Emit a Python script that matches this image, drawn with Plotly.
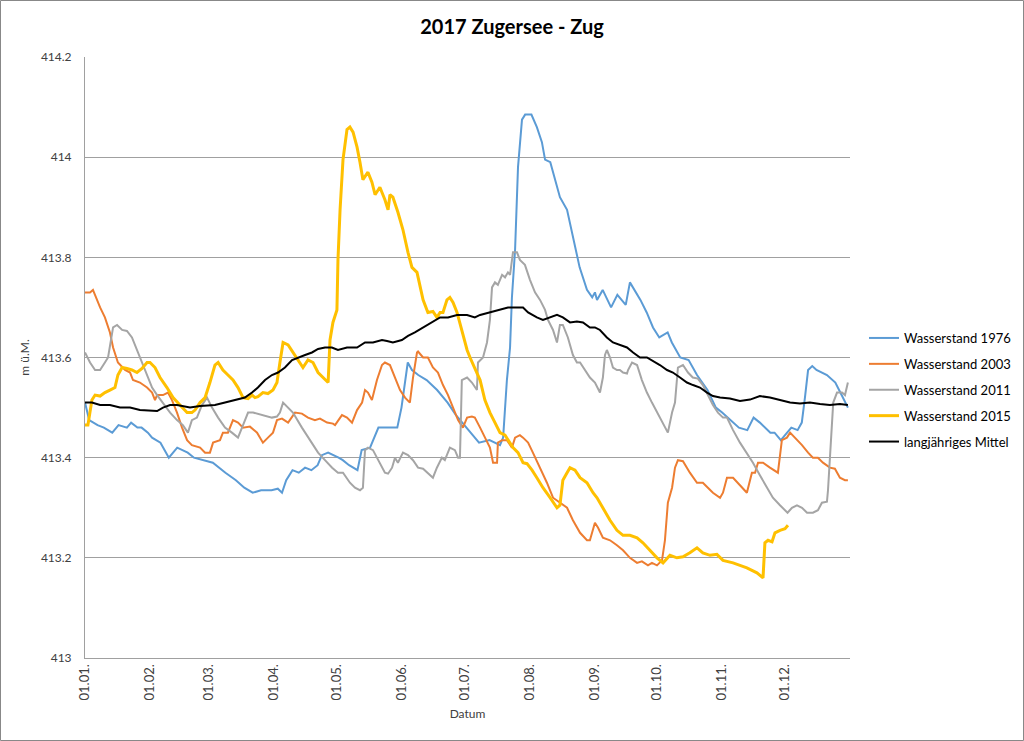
import plotly.graph_objects as go

# ---- data (day of year since 01.01., value in m ü.M.) ----
tick_days = [0, 31, 59, 90, 120, 151, 181, 212, 243, 273, 304, 334]
tick_labels = ["01.01.", "01.02.", "01.03.", "01.04.", "01.05.", "01.06.",
               "01.07.", "01.08.", "01.09.", "01.10.", "01.11.", "01.12."]

d1976 = [0, 2, 6, 9, 13, 16, 20, 22, 25, 27, 30, 32, 36, 40, 44, 49, 52, 56, 61, 67, 72, 76, 80, 84, 89, 92, 94, 96, 99,
         102, 105, 108, 111, 113, 116, 121, 123, 126, 130, 132, 136, 140, 145, 149, 151, 154, 156, 159, 163, 168, 173,
         177, 184, 188, 193, 198, 199.5, 201.3, 202.8, 203.7, 205.2, 206.6, 208.5, 210, 213, 215.6, 218, 219.5, 222, 224,
         226.6, 230, 233, 236, 239.5, 242, 243.3, 244.3, 247, 251, 254, 258, 260, 265, 268, 271, 274, 278, 280, 284, 288,
         292, 297, 301, 304, 308, 312, 316, 319, 322, 327, 329, 332, 335, 337, 340, 342, 343.5, 345, 347, 349, 354, 358,
         361, 364]
v1976 = [413.51, 413.475, 413.465, 413.46, 413.45, 413.465, 413.46, 413.47, 413.46, 413.46, 413.45, 413.44, 413.43,
         413.40, 413.42, 413.41, 413.40, 413.395, 413.39, 413.37, 413.355, 413.34, 413.33, 413.335, 413.335, 413.338,
         413.33, 413.355, 413.375, 413.37, 413.38, 413.375, 413.385, 413.405, 413.41, 413.40, 413.395, 413.385, 413.375,
         413.415, 413.42, 413.46, 413.46, 413.46, 413.50, 413.59, 413.575, 413.565, 413.555, 413.535, 413.51, 413.485,
         413.45, 413.43, 413.435, 413.425, 413.44, 413.555, 413.62, 413.72, 413.815, 413.98, 414.075, 414.085, 414.085,
         414.06, 414.03, 413.995, 413.99, 413.96, 413.92, 413.895, 413.84, 413.78, 413.735, 413.72, 413.73, 413.715,
         413.735, 413.70, 413.725, 413.705, 413.75, 413.715, 413.69, 413.66, 413.64, 413.65, 413.63, 413.60, 413.595,
         413.565, 413.535, 413.50, 413.49, 413.475, 413.46, 413.455, 413.48, 413.47, 413.45, 413.45, 413.435, 413.45,
         413.46, 413.455, 413.47, 413.52, 413.575, 413.583, 413.575, 413.565, 413.55, 413.525, 413.50]

d2003 = [0, 2.4, 3.8, 5.7, 7.2, 9.5, 11.9, 13.4, 15.7, 19.1, 21.5, 22.9, 26.2, 29.6, 32, 33.4, 34.4, 37.2, 39.6, 41.5,
         43.9, 46.3, 48.7, 51, 54.9, 57.3, 59.6, 61.1, 64.4, 65.8, 68.2, 70.6, 73, 75.4, 78.7, 82.1, 84.9, 87.3, 89.7,
         91.6, 94, 96.9, 100.2, 103.5, 106.4, 109.7, 112.1, 115.5, 118.3, 119.3, 122.6, 125, 127.4, 129.8, 132.2, 133.6,
         135, 136.9, 139.3, 141.7, 143.1, 145.5, 147.9, 150.3, 152.7, 155, 156.5, 158.4, 158.9, 161.3, 163.6, 166, 168.4,
         170.8, 173.2, 175.6, 178, 180.3, 182.3, 184.6, 186, 188.5, 190.8, 193.2, 194.7, 196.6, 197, 199, 201.3, 203.7,
         205.2, 207.5, 209, 211.4, 213.7, 217.1, 220.4, 223.3, 226.6, 230, 232.8, 236.2, 239.5, 240.9, 243.3, 244.8,
         247.1, 250.5, 253.8, 256.7, 260, 263.4, 265.7, 268.6, 270.5, 272.9, 275.3, 276.7, 278.1, 280.1, 281.5, 282.9,
         285.3, 288.6, 292, 294.8, 297.2, 299.6, 303, 304.4, 306.3, 309.2, 312.5, 315.8, 318.2, 319.7, 321.1, 323.5,
         326.8, 330.6, 332.5, 334.9, 336.4, 338.7, 342.1, 345, 347.3, 349.7, 352.1, 355.4, 357.8, 360.2, 362.6, 364]
v2003 = [413.73, 413.73, 413.735, 413.715, 413.70, 413.68, 413.65, 413.62, 413.59, 413.575, 413.57, 413.555, 413.55,
         413.54, 413.53, 413.515, 413.525, 413.525, 413.53, 413.515, 413.49, 413.46, 413.435, 413.425, 413.42, 413.41,
         413.41, 413.43, 413.435, 413.45, 413.45, 413.475, 413.47, 413.46, 413.462, 413.45, 413.43, 413.44, 413.45,
         413.475, 413.478, 413.47, 413.49, 413.488, 413.48, 413.475, 413.478, 413.47, 413.468, 413.465, 413.485, 413.48,
         413.47, 413.495, 413.51, 413.535, 413.53, 413.515, 413.555, 413.585, 413.59, 413.585, 413.56, 413.535, 413.52,
         413.51, 413.56, 413.61, 413.612, 413.60, 413.60, 413.58, 413.57, 413.545, 413.525, 413.50, 413.475, 413.46,
         413.48, 413.482, 413.48, 413.46, 413.44, 413.42, 413.39, 413.39, 413.43, 413.435, 413.435, 413.42, 413.44,
         413.445, 413.44, 413.43, 413.41, 413.38, 413.35, 413.32, 413.31, 413.30, 413.275, 413.25, 413.235, 413.235,
         413.27, 413.26, 413.24, 413.235, 413.225, 413.215, 413.20, 413.19, 413.193, 413.185, 413.19, 413.185, 413.195,
         413.235, 413.31, 413.34, 413.38, 413.395, 413.393, 413.37, 413.35, 413.35, 413.34, 413.33, 413.32, 413.33,
         413.36, 413.36, 413.345, 413.33, 413.37, 413.37, 413.39, 413.39, 413.38, 413.37, 413.435, 413.44, 413.45,
         413.44, 413.425, 413.41, 413.40, 413.40, 413.39, 413.38, 413.378, 413.36, 413.355, 413.355]

d2011 = [0, 2.4, 4.8, 7.2, 9.5, 11, 13.4, 15.3, 17.7, 20, 22.4, 24.8, 27.2, 29.6, 32, 34.4, 37.2, 40.6, 43.9, 46.7, 49.1,
         51, 53.4, 55.8, 58.2, 60.6, 63.5, 66.8, 70.1, 73, 75.4, 77.8, 80.2, 84.4, 89.2, 91.6, 93, 94.5, 96.9, 99.2,
         103.5, 107.3, 111.2, 114.5, 117.9, 120.7, 123.1, 126.4, 128.8, 131.2, 132.6, 133.6, 135, 137.4, 140.7, 143.1,
         144.6, 146.5, 147.9, 149.3, 151.7, 154.1, 156.5, 158.9, 161.3, 163.6, 166, 167.9, 170.3, 171.7, 174.1, 176.5,
         178, 178.9, 179.8, 182.3, 184.6, 187, 187.5, 189.9, 191.8, 193.2, 194.2, 195.6, 197, 199, 200.4, 201.8, 202.8,
         204.2, 206.1, 207.5, 209.9, 212.3, 214.7, 217.1, 219.5, 220.9, 223.3, 225.2, 226.6, 228, 230.4, 232.8, 234.7,
         236.2, 238.5, 240.9, 243.3, 245.7, 247.1, 248.1, 249, 250.5, 251.9, 253.8, 255.2, 256.7, 258.6, 259.1, 261,
         263.4, 265.7, 268.1, 270.5, 272.9, 275.3, 278.1, 280.1, 281.5, 282.9, 285.3, 287.7, 290, 292.4, 294.8, 297.2,
         299.6, 302, 304.4, 306.3, 309.2, 312.5, 315.8, 318.7, 322, 325.4, 328.2, 331.6, 335.2, 337.3, 339.7, 342.1,
         344.5, 347.3, 349.7, 351.6, 354, 354.5, 355.4, 357, 358.8, 361.2, 362.6, 364]
v2011 = [413.61, 413.59, 413.575, 413.575, 413.59, 413.60, 413.66, 413.665, 413.655, 413.653, 413.64, 413.615, 413.59,
         413.565, 413.54, 413.525, 413.51, 413.49, 413.475, 413.465, 413.45, 413.475, 413.48, 413.505, 413.52, 413.50,
         413.48, 413.46, 413.45, 413.44, 413.465, 413.49, 413.49, 413.485, 413.48, 413.482, 413.49, 413.51, 413.50,
         413.49, 413.46, 413.435, 413.41, 413.395, 413.38, 413.37, 413.37, 413.35, 413.34, 413.335, 413.34, 413.415,
         413.42, 413.415, 413.39, 413.37, 413.368, 413.38, 413.40, 413.39, 413.41, 413.405, 413.395, 413.38, 413.378,
         413.37, 413.36, 413.38, 413.40, 413.395, 413.42, 413.415, 413.40, 413.40, 413.555, 413.56, 413.55, 413.535,
         413.59, 413.60, 413.63, 413.675, 413.74, 413.75, 413.745, 413.765, 413.76, 413.77, 413.765, 413.81, 413.81,
         413.795, 413.785, 413.755, 413.73, 413.715, 413.695, 413.675, 413.655, 413.63, 413.665, 413.665, 413.64,
         413.605, 413.59, 413.59, 413.575, 413.56, 413.55, 413.53, 413.56, 413.605, 413.615, 413.60, 413.58, 413.575,
         413.575, 413.57, 413.568, 413.575, 413.59, 413.585, 413.555, 413.53, 413.51, 413.49, 413.47, 413.45, 413.49,
         413.51, 413.58, 413.585, 413.57, 413.56, 413.558, 413.545, 413.525, 413.505, 413.49, 413.48, 413.48, 413.455,
         413.43, 413.41, 413.39, 413.365, 413.34, 413.32, 413.305, 413.29, 413.30, 413.305, 413.30, 413.29, 413.29,
         413.295, 413.31, 413.312, 413.335, 413.395, 413.51, 413.53, 413.53, 413.525, 413.55]

d2015 = [0, 1.4, 3.3, 4.8, 7.2, 9.5, 11.9, 14.3, 15.7, 17.7, 20, 22.4, 24.8, 27.2, 29.6, 31, 33.4, 35.8, 39.1, 42, 45.3,
         48.7, 51, 52.5, 54.9, 57.3, 59.6, 62, 63.5, 65.8, 68.2, 70.6, 73, 75.4, 77.8, 79.7, 81.1, 82.5, 84.9, 87.3, 89.7,
         91.6, 93, 94.5, 96.9, 99.2, 101.6, 104, 106.4, 108.8, 111.2, 113.5, 115.5, 116, 116.9, 118.3, 120.2, 120.7,
         121.7, 123.1, 125, 126.4, 127.9, 129.8, 131.2, 132.6, 135, 136.9, 138.4, 140.7, 143.1, 144.6, 145.5, 146.9,
         149.3, 151.7, 154.1, 156, 158.4, 159.8, 161.3, 163.6, 166, 167.9, 169.4, 170.8, 172.7, 174.1, 175.6, 177.5,
         179.9, 182.3, 183.7, 186, 188.5, 190.8, 193.2, 195.6, 198, 200.4, 201.8, 204.2, 206.6, 209, 210.9, 213.3, 215.6,
         218.5, 221.9, 225.2, 226.6, 228, 230, 231.4, 233.8, 236.2, 239.5, 242.4, 244.3, 247.1, 250.5, 253.8, 256.7, 260,
         263.4, 266.2, 269.6, 272.9, 275.8, 279.1, 282.4, 285.3, 288.6, 292, 294.8, 298.2, 301.5, 304.4, 309.2, 315.8,
         320.6, 323.5, 324.4, 325.9, 327.8, 329.2, 331.6, 334, 335.4]
v2015 = [413.465, 413.465, 413.515, 413.525, 413.523, 413.53, 413.535, 413.54, 413.565, 413.58, 413.578, 413.575,
         413.57, 413.578, 413.59, 413.59, 413.58, 413.56, 413.54, 413.52, 413.505, 413.49, 413.49, 413.495, 413.51,
         413.52, 413.55, 413.585, 413.59, 413.575, 413.565, 413.555, 413.54, 413.52, 413.518, 413.525, 413.52, 413.522,
         413.53, 413.528, 413.535, 413.55, 413.59, 413.63, 413.625, 413.61, 413.595, 413.58, 413.595, 413.59, 413.57,
         413.56, 413.55, 413.55, 413.635, 413.67, 413.695, 413.795, 413.895, 413.995, 414.055, 414.06, 414.05, 414.02,
         413.99, 413.955, 413.97, 413.95, 413.925, 413.94, 413.915, 413.895, 413.925, 413.92, 413.89, 413.855, 413.81,
         413.78, 413.77, 413.74, 413.715, 413.69, 413.692, 413.68, 413.69, 413.69, 413.715, 413.72, 413.71, 413.69,
         413.655, 413.615, 413.60, 413.58, 413.555, 413.515, 413.49, 413.47, 413.45, 413.445, 413.435, 413.42, 413.41,
         413.39, 413.388, 413.375, 413.36, 413.34, 413.32, 413.30, 413.305, 413.355, 413.37, 413.38, 413.375, 413.36,
         413.35, 413.33, 413.32, 413.30, 413.275, 413.255, 413.245, 413.245, 413.24, 413.23, 413.215, 413.20, 413.19,
         413.205, 413.20, 413.202, 413.21, 413.22, 413.21, 413.205, 413.207, 413.195, 413.19, 413.18, 413.17, 413.16,
         413.23, 413.235, 413.232, 413.25, 413.255, 413.258, 413.265]

dmean = [0, 3.3, 7.2, 11.9, 16.7, 21.5, 26.2, 31, 34.4, 37.2, 40.6, 43.9, 46.7, 50.1, 54.9, 59.6, 62, 66.8, 71.6, 76.3,
         79.7, 82.5, 85.9, 89.2, 92.1, 95.4, 98.8, 101.6, 105, 108.3, 111.2, 114.5, 117.8, 120.7, 125, 129.8, 133.6,
         137.4, 141.7, 144.1, 146.9, 151.2, 154.1, 157.4, 161.3, 165.6, 169.4, 173.2, 177.5, 182.3, 186, 188.5, 193.2,
         198, 201.8, 206.1, 209, 211.4, 215.6, 218.5, 221.9, 225.2, 228, 231.4, 234.7, 237.6, 240.9, 243.3, 245.7, 249,
         251.9, 255.2, 258.6, 261.5, 264.8, 268.1, 271, 274.3, 277.7, 280.5, 283.9, 287.2, 290.1, 293.4, 296.8, 299.6,
         303, 307.7, 312.5, 317.3, 322, 326.8, 331.6, 336.4, 341.1, 345.9, 350.7, 355.4, 360.2, 364]
vmean = [413.51, 413.51, 413.505, 413.505, 413.50, 413.50, 413.495, 413.493, 413.493, 413.50, 413.505, 413.505,
         413.503, 413.50, 413.503, 413.505, 413.505, 413.51, 413.515, 413.52, 413.53, 413.54, 413.555, 413.565, 413.57,
         413.58, 413.595, 413.60, 413.605, 413.61, 413.617, 413.62, 413.62, 413.615, 413.62, 413.62, 413.63, 413.63,
         413.635, 413.633, 413.63, 413.635, 413.643, 413.65, 413.66, 413.67, 413.68, 413.68, 413.685, 413.685, 413.68,
         413.685, 413.69, 413.695, 413.70, 413.70, 413.70, 413.69, 413.68, 413.675, 413.68, 413.685, 413.68, 413.67,
         413.672, 413.67, 413.66, 413.66, 413.655, 413.64, 413.63, 413.625, 413.62, 413.61, 413.60, 413.60, 413.593,
         413.585, 413.575, 413.57, 413.56, 413.55, 413.545, 413.54, 413.53, 413.523, 413.52, 413.518, 413.513, 413.516,
         413.523, 413.52, 413.515, 413.51, 413.508, 413.51, 413.507, 413.505, 413.507, 413.505]

series = [
    ("Wasserstand 1976", d1976, v1976, "#5B9BD5", 2),
    ("Wasserstand 2003", d2003, v2003, "#ED7D31", 2),
    ("Wasserstand 2011", d2011, v2011, "#A5A5A5", 2),
    ("Wasserstand 2015", d2015, v2015, "#FFC000", 3),
    ("langjähriges Mittel", dmean, vmean, "#000000", 2),
]

FONT = "Lato"
fig = go.Figure()
for i, (name, xs, ys, col, w) in enumerate(series):
    fig.add_trace(go.Scatter(x=xs, y=ys, mode="lines", name=name, legendgroup=str(i),
                             line=dict(color=col, width=w)))

W, H = 1024, 741
L, R, T, B = 85, 174, 57, 83
pw, ph = W - L - R, H - T - B

fig.update_layout(
    width=W, height=H,
    margin=dict(l=L, r=R, t=T, b=B),
    paper_bgcolor="white", plot_bgcolor="white",
    font=dict(family=FONT, size=12, color="#404040"),
    title=dict(text="<b>2017 Zugersee - Zug</b>", x=0.5, xanchor="center", y=1 - 27 / H, yanchor="middle",
               font=dict(family=FONT, size=20, color="#000000")),
    showlegend=True,
    legend=dict(xref="container", yref="container", x=864 / W, y=1 - 390 / H, xanchor="left", yanchor="middle",
                font=dict(family=FONT, size=13, color="#000000"), tracegroupgap=6,
                bgcolor="rgba(0,0,0,0)", borderwidth=0),
    xaxis=dict(range=[0, 365], tickmode="array", tickvals=tick_days, ticktext=tick_labels, tickangle=-90,
               showgrid=False, zeroline=False, showline=True, linecolor="#A0A0A0", linewidth=1,
               ticks="", tickfont=dict(family=FONT, size=13, color="#404040"),
               title=dict(text="Datum", font=dict(family=FONT, size=12, color="#404040"), standoff=10)),
    yaxis=dict(range=[413, 414.2], tickmode="array",
               tickvals=[413, 413.2, 413.4, 413.6, 413.8, 414, 414.2],
               ticktext=["413", "413.2", "413.4", "413.6", "413.8", "414", "414.2"],
               showgrid=True, gridcolor="#A0A0A0", gridwidth=1, zeroline=False,
               showline=True, linecolor="#A0A0A0", linewidth=1, ticks="", ticklabelstandoff=10,
               tickfont=dict(family=FONT, size=12, color="#404040"),
               title=dict(text="m ü.M.", font=dict(family=FONT, size=12, color="#404040"), standoff=8)),
)

# outer chart border
fig.add_shape(type="rect", xref="paper", yref="paper",
              x0=(0.5 - L) / pw, x1=(W - 0.5 - L) / pw,
              y0=(H - B - (H - 0.5)) / ph, y1=(H - B - 0.5) / ph,
              line=dict(color="#888888", width=1), fillcolor="rgba(0,0,0,0)", layer="above")

fig.write_html("out.html", config={"displayModeBar": False},
               post_script="document.body.style.margin='0';document.body.style.overflow='hidden';")
